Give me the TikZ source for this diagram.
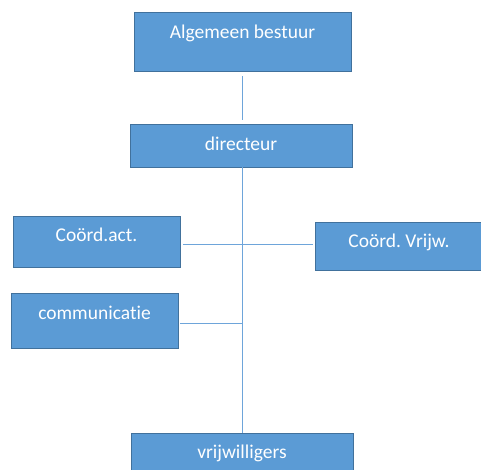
\documentclass[tikz,border=0pt]{standalone}
\usepackage{fontspec}
\setmainfont{Carlito}[Ligatures=NoCommon]
\usepackage{tikz}
\usetikzlibrary{positioning, calc}
\definecolor{OrgBlue}{RGB}{91,155,213}
\definecolor{OrgEdge}{RGB}{65,113,156}
\definecolor{OrgLine}{RGB}{110,165,218}

\begin{document}
\begin{tikzpicture}[
          x=1pt, y=-1pt,
          box/.style={rectangle, draw=OrgEdge, fill=OrgBlue, line width=0.9pt,
                      inner sep=0pt},
          lbl/.style={text=white, font=\fontsize{19.5}{23}\selectfont,
                      inner sep=0pt},
          link/.style={draw=OrgLine, line width=1pt}
        ]
        \useasboundingbox (0,0) rectangle (481,470);

        % boxes
        \node[box, minimum width=217pt, minimum height=59pt] (bestuur) at (242.5, 41.5) {};
        \node[box, minimum width=222pt, minimum height=43pt] (dir) at (241, 145.5) {};
        \node[box, minimum width=167pt, minimum height=51pt] (act) at (96.5, 241.5) {};
        \node[box, minimum width=168pt, minimum height=48pt] (vrijw) at (399, 246) {};
        \node[box, minimum width=167pt, minimum height=55pt] (comm) at (94.5, 320.5) {};
        \node[box, minimum width=222pt, minimum height=44pt] (vw) at (242, 455) {};

        % texts
        \node[lbl] (bestuur-t) at (242.5, 33) {Algemeen bestuur};
        \node[lbl] (dir-t) at (241, 144) {directeur};
        \node[lbl] (act-t) at (96.5, 235) {Coörd.act.};
        \node[lbl] (vrijw-t) at (399, 242) {Coörd.\ Vrijw.};
        \node[lbl] (comm-t) at (94.5, 313) {communicatie};
        \node[lbl] (vw-t) at (242, 453) {vrijwilligers};

        % junctions on the spine
        \coordinate (j1) at (242, 244);
        \coordinate (j2) at (242, 323);

        % connectors
        \draw[link, shorten <=5pt, shorten >=4pt] (bestuur.south -| j1) -- (dir.north -| j1);
        \draw[link] (dir.south -| j1) -- (vw.north -| j1);
        \draw[link, shorten <=3pt, shorten >=2pt] (act.east |- j1) -- (vrijw.west |- j1);
        \draw[link, shorten <=2pt] (comm.east |- j2) -- (j2);
      \end{tikzpicture}
\end{document}
